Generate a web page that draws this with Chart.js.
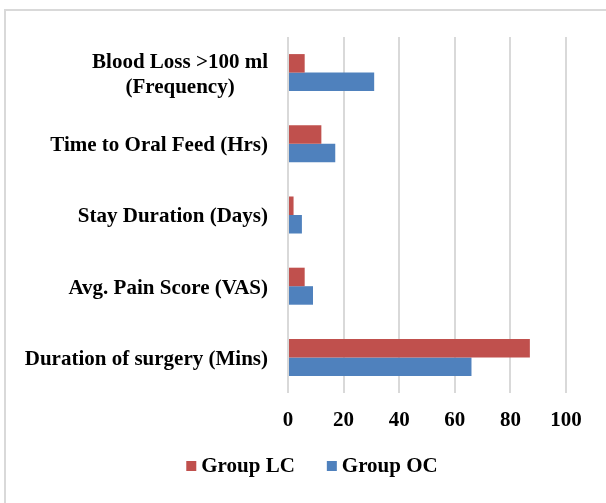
<!DOCTYPE html>
<html>
<head>
<meta charset="utf-8">
<script src="https://cdn.jsdelivr.net/npm/chart.js@4"></script>
<style>
  html, body { margin: 0; padding: 0; background: #fff; }
  #wrap { position: relative; width: 606px; height: 503px; }
  #frame {
    position: absolute; left: 4px; top: 9px; width: 620px; height: 520px;
    border-left: 2px solid #d9d9d9; border-top: 2px solid #d9d9d9;
  }
  canvas { position: absolute; left: 0; top: 0; }
</style>
</head>
<body>
<div id="wrap">
  <div id="frame"></div>
  <canvas id="chart" width="606" height="503"></canvas>
</div>
<script>
// categories, top to bottom
const categories = [
  ['Blood Loss >100 ml', '(Frequency)'],
  ['Time to Oral Feed (Hrs)'],
  ['Stay Duration (Days)'],
  ['Avg. Pain Score (VAS)'],
  ['Duration of surgery (Mins)']
]
const groupLC = [6, 12, 2, 6, 87]
const groupOC = [31, 17, 5, 9, 66]
const xTicks = [0, 20, 40, 60, 80, 100]

const FAMILY = '"Liberation Serif", "Times New Roman", serif'
const SIZE = 21
const FONT = 'bold ' + SIZE + 'px ' + FAMILY

// draws the category labels: lines centred on each other, block right aligned
const categoryLabels = {
  id: 'categoryLabels',
  afterDraw(chart) {
    const ctx = chart.ctx
    const yScale = chart.scales.y
    const right = yScale.right - 20
    const lineH = 25
    ctx.save()
    ctx.font = FONT
    ctx.fillStyle = '#000'
    ctx.textAlign = 'center'
    ctx.textBaseline = 'middle'
    categories.forEach((lines, i) => {
      const y = yScale.getPixelForValue(i)
      let maxW = 0
      lines.forEach(l => { maxW = Math.max(maxW, ctx.measureText(l).width) })
      const cx = right - maxW / 2
      const y0 = y - (lines.length - 1) * lineH / 2 + 2
      lines.forEach((l, j) => ctx.fillText(l, cx, y0 + j * lineH))
    })
    ctx.restore()
  }
}

// Excel-like legend: small square, tight gap to the text, wide gap between items
const bottomLegend = {
  id: 'bottomLegend',
  afterDraw(chart) {
    const ctx = chart.ctx
    const box = 10
    const gap = 5
    const itemGap = 32
    const centerX = 312
    const y = 466
    ctx.save()
    ctx.font = FONT
    ctx.textBaseline = 'middle'
    ctx.textAlign = 'left'
    const items = chart.data.datasets.map(ds => ({
      text: ds.label,
      color: ds.backgroundColor,
      w: box + gap + ctx.measureText(ds.label).width
    }))
    const total = items.reduce((s, it) => s + it.w, 0) + itemGap * (items.length - 1)
    let x = centerX - total / 2
    items.forEach(it => {
      ctx.fillStyle = it.color
      ctx.fillRect(x, y - box / 2, box, box)
      ctx.fillStyle = '#000'
      ctx.fillText(it.text, x + box + gap, y + 1)
      x += it.w + itemGap
    })
    ctx.restore()
  }
}

new Chart(document.getElementById('chart'), {
  type: 'bar',
  data: {
    labels: categories.map(c => c.join(' ')),
    datasets: [
      {
        label: 'Group LC',
        data: groupLC,
        backgroundColor: '#C0504D',
        categoryPercentage: 0.52,
        barPercentage: 1
      },
      {
        label: 'Group OC',
        data: groupOC,
        backgroundColor: '#4F81BD',
        categoryPercentage: 0.52,
        barPercentage: 1
      }
    ]
  },
  options: {
    indexAxis: 'y',
    responsive: false,
    animation: false,
    layout: {
      padding: { left: 0, top: 37, right: 40, bottom: 60 }
    },
    plugins: {
      legend: { display: false },
      tooltip: { enabled: false }
    },
    scales: {
      x: {
        min: 0,
        max: 100,
        afterBuildTicks: (scale) => { scale.ticks = xTicks.map(v => ({ value: v })) },
        afterFit: (scale) => { scale.height = 50 },
        grid: { color: '#d9d9d9', lineWidth: 2, drawTicks: false },
        border: { display: false },
        ticks: {
          color: '#000',
          padding: 15,
          font: { family: FAMILY, size: SIZE, weight: 'bold' }
        }
      },
      y: {
        afterFit: (scale) => { scale.width = 288 },
        grid: { display: false },
        border: { display: false },
        ticks: { display: false }
      }
    }
  },
  plugins: [categoryLabels, bottomLegend]
})
</script>
</body>
</html>
